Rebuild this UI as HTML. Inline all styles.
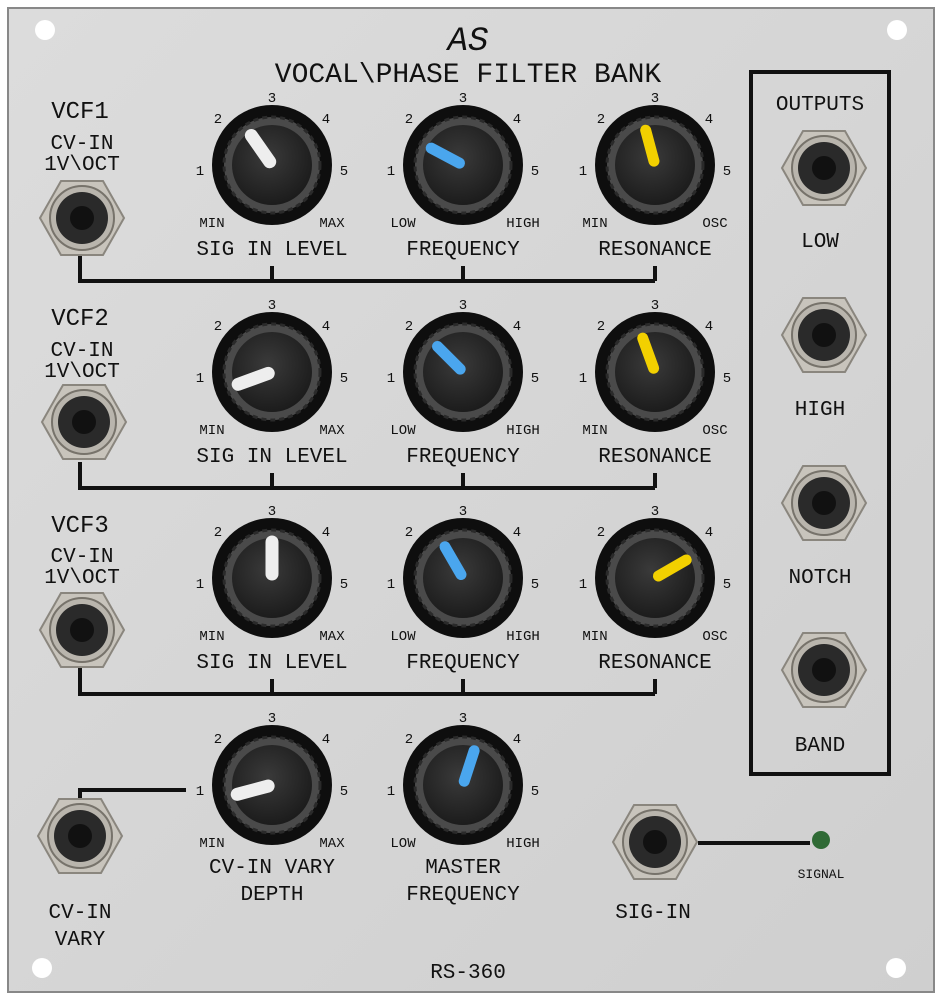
<!DOCTYPE html>
<html><head><style>
body{margin:0;background:#fff;}
svg text{font-family:"Liberation Mono","DejaVu Sans Mono",monospace;fill:#111;text-anchor:middle;}
</style></head><body>
<svg width="943" height="1000" viewBox="0 0 943 1000" xmlns="http://www.w3.org/2000/svg">
<defs>
<linearGradient id="pan" x1="0" y1="0" x2="1" y2="1"><stop offset="0" stop-color="#dcdcdc"/><stop offset="1" stop-color="#cfcfcf"/></linearGradient>
<radialGradient id="cap" cx="0.45" cy="0.4" r="0.6"><stop offset="0" stop-color="#3a3a3a"/><stop offset="1" stop-color="#1c1c1c"/></radialGradient>
<g id="knob">
<circle r="60" fill="#0e0e0e"/>
<circle r="48" fill="#4a4a4a" stroke="#2a2a2a" stroke-width="3" stroke-dasharray="5 4"/>
<circle r="40" fill="url(#cap)"/>
</g>
<g id="jack">
<polygon points="-42,0 -21,-37 21,-37 42,0 21,37 -21,37" fill="#c8c4bc" stroke="#8a867e" stroke-width="2"/>
<circle r="32" fill="#b9b5ad" stroke="#77736b" stroke-width="2"/>
<circle r="26" fill="#2a2a2a"/>
<circle r="12" fill="#111"/>
</g>
</defs>
<rect x="0" y="0" width="943" height="1000" fill="#fff"/>
<rect x="8" y="8" width="926" height="984" fill="url(#pan)" stroke="#888" stroke-width="2"/>
<!-- screw holes -->
<circle cx="45" cy="30" r="10" fill="#fff"/><circle cx="897" cy="30" r="10" fill="#fff"/>
<circle cx="42" cy="968" r="10" fill="#fff"/><circle cx="896" cy="968" r="10" fill="#fff"/>
<!-- logo & title -->
<text x="468" y="50" font-size="34" font-family="Liberation Serif" font-style="italic">AS</text>
<text x="468" y="82" font-size="28">VOCAL\PHASE FILTER BANK</text>
<!-- outputs box -->
<rect x="751" y="72" width="138" height="702" fill="none" stroke="#111" stroke-width="4"/>
<text x="820" y="110" font-size="21">OUTPUTS</text>
<use href="#jack" x="824" y="168"/><text x="820" y="247" font-size="21">LOW</text>
<use href="#jack" x="824" y="335"/><text x="820" y="415" font-size="21">HIGH</text>
<use href="#jack" x="824" y="503"/><text x="820" y="583" font-size="21">NOTCH</text>
<use href="#jack" x="824" y="670"/><text x="820" y="751" font-size="21">BAND</text>
<!-- connection lines -->
<g stroke="#111" stroke-width="4" fill="none">
<path d="M80 255V281H655M272 281V266M463 281V266M655 281V266"/>
<path d="M80 462V488H655M272 488V473M463 488V473M655 488V473"/>
<path d="M80 668V694H655M272 694V679M463 694V679M655 694V679"/>
<path d="M80 815V790H186"/>
<path d="M698 843H810"/>
</g>
<!-- left labels & jacks -->
<g font-size="24"><text x="80" y="118">VCF1</text><text x="80" y="325">VCF2</text><text x="80" y="532">VCF3</text></g>
<g font-size="21"><text x="82" y="149">CV-IN</text><text x="82" y="170">1V\OCT</text>
<text x="82" y="356">CV-IN</text><text x="82" y="377">1V\OCT</text>
<text x="82" y="562">CV-IN</text><text x="82" y="583">1V\OCT</text></g>
<use href="#jack" x="82" y="218"/><use href="#jack" x="84" y="422"/><use href="#jack" x="82" y="630"/>
<use href="#jack" x="80" y="836"/>
<text x="80" y="918" font-size="21">CV-IN</text><text x="80" y="945" font-size="21">VARY</text>
<use href="#jack" x="655" y="842"/>
<text x="653" y="918" font-size="21">SIG-IN</text>
<circle cx="821" cy="840" r="9" fill="#2f6a35"/>
<text x="821" y="878" font-size="13">SIGNAL</text>
<text x="468" y="978" font-size="21">RS-360</text>

<!-- knobs: function-like repeats -->
<!-- row1 -->
<g font-size="14">
<!-- knob scale template per knob -->
<g transform="translate(272,165)"><text y="-63">3</text><text x="-54" y="-42">2</text><text x="54" y="-42">4</text><text x="-72" y="10">1</text><text x="72" y="10">5</text><text x="-60" y="62">MIN</text><text x="60" y="62">MAX</text></g>
<g transform="translate(463,165)"><text y="-63">3</text><text x="-54" y="-42">2</text><text x="54" y="-42">4</text><text x="-72" y="10">1</text><text x="72" y="10">5</text><text x="-60" y="62">LOW</text><text x="60" y="62">HIGH</text></g>
<g transform="translate(655,165)"><text y="-63">3</text><text x="-54" y="-42">2</text><text x="54" y="-42">4</text><text x="-72" y="10">1</text><text x="72" y="10">5</text><text x="-60" y="62">MIN</text><text x="60" y="62">OSC</text></g>
<g transform="translate(272,372)"><text y="-63">3</text><text x="-54" y="-42">2</text><text x="54" y="-42">4</text><text x="-72" y="10">1</text><text x="72" y="10">5</text><text x="-60" y="62">MIN</text><text x="60" y="62">MAX</text></g>
<g transform="translate(463,372)"><text y="-63">3</text><text x="-54" y="-42">2</text><text x="54" y="-42">4</text><text x="-72" y="10">1</text><text x="72" y="10">5</text><text x="-60" y="62">LOW</text><text x="60" y="62">HIGH</text></g>
<g transform="translate(655,372)"><text y="-63">3</text><text x="-54" y="-42">2</text><text x="54" y="-42">4</text><text x="-72" y="10">1</text><text x="72" y="10">5</text><text x="-60" y="62">MIN</text><text x="60" y="62">OSC</text></g>
<g transform="translate(272,578)"><text y="-63">3</text><text x="-54" y="-42">2</text><text x="54" y="-42">4</text><text x="-72" y="10">1</text><text x="72" y="10">5</text><text x="-60" y="62">MIN</text><text x="60" y="62">MAX</text></g>
<g transform="translate(463,578)"><text y="-63">3</text><text x="-54" y="-42">2</text><text x="54" y="-42">4</text><text x="-72" y="10">1</text><text x="72" y="10">5</text><text x="-60" y="62">LOW</text><text x="60" y="62">HIGH</text></g>
<g transform="translate(655,578)"><text y="-63">3</text><text x="-54" y="-42">2</text><text x="54" y="-42">4</text><text x="-72" y="10">1</text><text x="72" y="10">5</text><text x="-60" y="62">MIN</text><text x="60" y="62">OSC</text></g>
<g transform="translate(272,785)"><text y="-63">3</text><text x="-54" y="-42">2</text><text x="54" y="-42">4</text><text x="-72" y="10">1</text><text x="72" y="10">5</text><text x="-60" y="62">MIN</text><text x="60" y="62">MAX</text></g>
<g transform="translate(463,785)"><text y="-63">3</text><text x="-54" y="-42">2</text><text x="54" y="-42">4</text><text x="-72" y="10">1</text><text x="72" y="10">5</text><text x="-60" y="62">LOW</text><text x="60" y="62">HIGH</text></g>
</g>
<g font-size="21">
<text x="272" y="255">SIG IN LEVEL</text><text x="463" y="255">FREQUENCY</text><text x="655" y="255">RESONANCE</text>
<text x="272" y="462">SIG IN LEVEL</text><text x="463" y="462">FREQUENCY</text><text x="655" y="462">RESONANCE</text>
<text x="272" y="668">SIG IN LEVEL</text><text x="463" y="668">FREQUENCY</text><text x="655" y="668">RESONANCE</text>
<text x="272" y="873">CV-IN VARY</text><text x="272" y="900">DEPTH</text>
<text x="463" y="873">MASTER</text><text x="463" y="900">FREQUENCY</text>
</g>
<use href="#knob" x="272" y="165"/><use href="#knob" x="463" y="165"/><use href="#knob" x="655" y="165"/>
<use href="#knob" x="272" y="372"/><use href="#knob" x="463" y="372"/><use href="#knob" x="655" y="372"/>
<use href="#knob" x="272" y="578"/><use href="#knob" x="463" y="578"/><use href="#knob" x="655" y="578"/>
<use href="#knob" x="272" y="785"/><use href="#knob" x="463" y="785"/>
<g stroke-linecap="round">
<line x1="0" y1="-4" x2="0" y2="-36" stroke="#eee" stroke-width="13" transform="translate(272,165) rotate(-35)"/>
<line x1="0" y1="-4" x2="0" y2="-36" stroke="#4aa6ee" stroke-width="11" transform="translate(463,165) rotate(-62)"/>
<line x1="0" y1="-4" x2="0" y2="-36" stroke="#f2d000" stroke-width="11" transform="translate(655,165) rotate(-15)"/>
<line x1="0" y1="-4" x2="0" y2="-36" stroke="#eee" stroke-width="13" transform="translate(272,372) rotate(-110)"/>
<line x1="0" y1="-4" x2="0" y2="-36" stroke="#4aa6ee" stroke-width="11" transform="translate(463,372) rotate(-45)"/>
<line x1="0" y1="-4" x2="0" y2="-36" stroke="#f2d000" stroke-width="11" transform="translate(655,372) rotate(-20)"/>
<line x1="0" y1="-4" x2="0" y2="-36" stroke="#eee" stroke-width="13" transform="translate(272,578) rotate(0)"/>
<line x1="0" y1="-4" x2="0" y2="-36" stroke="#4aa6ee" stroke-width="11" transform="translate(463,578) rotate(-30)"/>
<line x1="0" y1="-4" x2="0" y2="-36" stroke="#f2d000" stroke-width="11" transform="translate(655,578) rotate(60)"/>
<line x1="0" y1="-4" x2="0" y2="-36" stroke="#eee" stroke-width="13" transform="translate(272,785) rotate(-105)"/>
<line x1="0" y1="-4" x2="0" y2="-36" stroke="#4aa6ee" stroke-width="11" transform="translate(463,785) rotate(18)"/>
</g>
</svg>
</body></html>
